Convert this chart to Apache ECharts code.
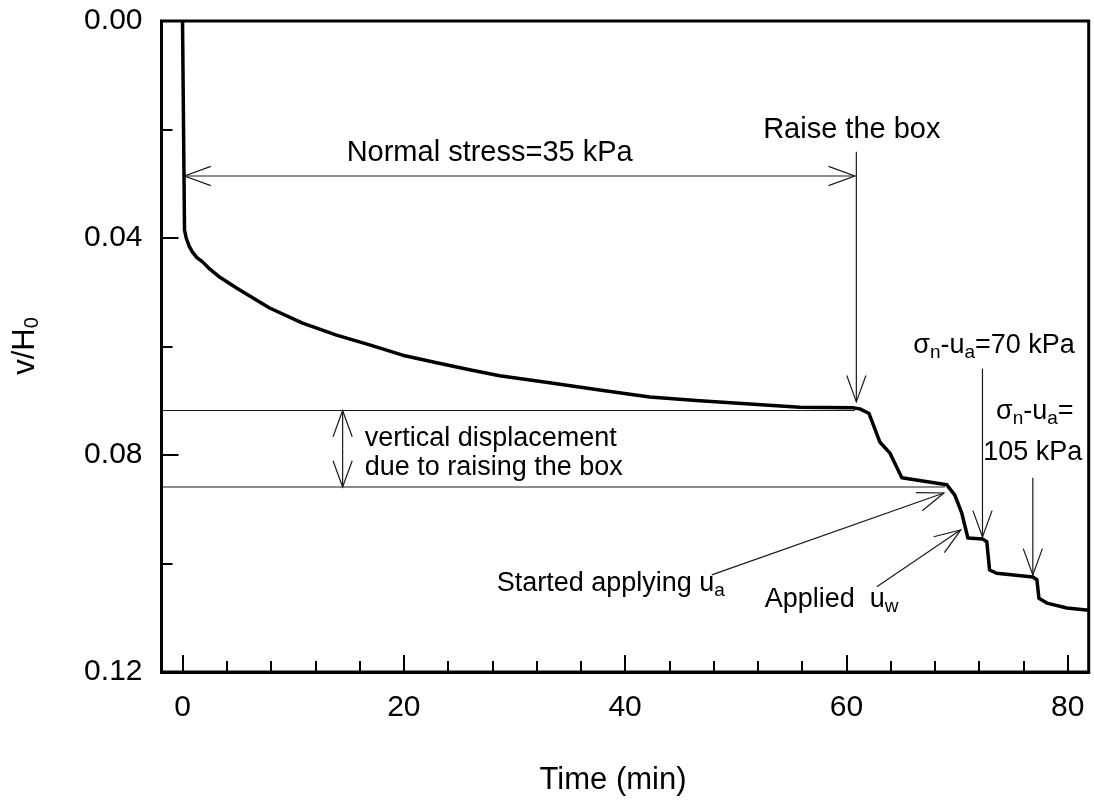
<!DOCTYPE html>
<html>
<head>
<meta charset="utf-8">
<script src="https://cdn.jsdelivr.net/npm/echarts@6/dist/echarts.min.js"></script>
<style>
  html, body { margin: 0; padding: 0; background: #fff; }
  #chart { width: 1094px; height: 803px; }
</style>
</head>
<body>
<div id="chart"></div>
<script>
// Settlement record: elapsed time (min) against normalised vertical displacement v/H0
const timeMin = [0, 0.18, 0.33, 0.6, 0.9, 1.3, 1.81, 2.5, 3.35, 4.88, 7.87, 10.85, 13.92, 16.91, 19.89, 22.97, 25.95, 28.66,
  33.18, 37.7, 42.22, 46.75, 51.27, 55.79, 60.58, 61.21, 62.03, 63.02, 63.92, 65.01, 69.08, 69.8, 70.43,
  70.98, 72.33, 72.69, 72.94, 73.58, 76.85, 77.22, 77.4, 78.12, 79.93, 81.9];
const vOverH0 = [0, 0.0385, 0.0400, 0.0415, 0.0426, 0.0436, 0.0444, 0.0458, 0.0472, 0.0492, 0.0529, 0.0557, 0.0579, 0.0597, 0.0616, 0.0630, 0.0643, 0.0654,
  0.0667, 0.0680, 0.0693, 0.0700, 0.0706, 0.0712, 0.0713, 0.0715, 0.0723, 0.0776, 0.0796, 0.0842, 0.0855, 0.0874, 0.0907,
  0.0953, 0.0955, 0.0960, 0.1012, 0.1018, 0.1025, 0.1030, 0.1064, 0.1073, 0.1082, 0.1086];

// Axis ticks
const xMajorTicks = [0, 20, 40, 60, 80];
const xMinorTicks = [4, 8, 12, 16, 24, 28, 32, 36, 44, 48, 52, 56, 64, 68, 72, 76];
const yTickStep = 0.04;

// Test stages marked on the record (time, v/H0)
const boxRaiseTime = 60.9;
const levelBeforeRaise = 0.0718;
const levelAfterRaise = 0.0859;

const FONT = '"Liberation Sans", Arial, Helvetica, sans-serif';
const INK = '#000';
const THIN = '#1a1a1a';
const X_MIN = -1.9, X_MAX = 81.9;
const GRID = { left: 161.5, right: 5.3, top: 21, bottom: 131 };

const chart = echarts.init(document.getElementById('chart'), null, { renderer: 'canvas' });

chart.setOption({
  animation: false,
  backgroundColor: '#fff',
  grid: [
    Object.assign({ show: true, borderColor: INK, borderWidth: 3, backgroundColor: 'transparent' }, GRID),
    Object.assign({ show: false }, GRID)
  ],
  xAxis: [
    {
      type: 'value', gridIndex: 0, min: X_MIN, max: X_MAX, position: 'bottom',
      axisLine: { show: true, onZero: false, lineStyle: { color: INK, width: 3 } },
      axisTick: { show: true, inside: true, length: 17, customValues: xMajorTicks, lineStyle: { color: INK, width: 2 } },
      axisLabel: { customValues: xMajorTicks, color: INK, fontSize: 30, fontFamily: FONT, margin: 21 },
      splitLine: { show: false }
    },
    {
      // minor ticks of the time axis
      type: 'value', gridIndex: 1, min: X_MIN, max: X_MAX, position: 'bottom',
      axisLine: { show: false, onZero: false },
      axisTick: { show: true, inside: true, length: 11, customValues: xMinorTicks, lineStyle: { color: INK, width: 2 } },
      axisLabel: { show: false },
      splitLine: { show: false }
    }
  ],
  yAxis: [
    {
      type: 'value', gridIndex: 0, inverse: true, min: 0, max: 0.12, interval: yTickStep, position: 'left',
      axisLine: { show: true, onZero: false, lineStyle: { color: INK, width: 3 } },
      axisTick: { show: true, inside: true, length: 17, lineStyle: { color: INK, width: 2 } },
      minorTick: { show: true, splitNumber: 2, length: 11, lineStyle: { color: INK, width: 2 } },
      axisLabel: { color: INK, fontSize: 30, fontFamily: FONT, margin: 19, formatter: v => v.toFixed(2) },
      splitLine: { show: false },
      minorSplitLine: { show: false }
    },
    {
      type: 'value', gridIndex: 1, inverse: true, min: 0, max: 0.12, show: false,
      axisLine: { onZero: false }
    }
  ],
  series: [{
    type: 'line',
    xAxisIndex: 0,
    yAxisIndex: 0,
    data: timeMin.map((t, i) => [t, vOverH0[i]]),
    showSymbol: false,
    lineStyle: { color: INK, width: 3.5, join: 'round' },
    clip: true
  }]
});

// ---- annotation layer, placed in data coordinates ----
const P = (t, v) => chart.convertToPixel({ gridIndex: 0 }, [t, v]);

const RICH = {
  s: { fontSize: 19, fontFamily: FONT, fill: INK, padding: [14, 0, 0, 0] }
};

function seg(a, b) {
  return { type: 'line', silent: true, shape: { x1: a[0], y1: a[1], x2: b[0], y2: b[1] },
    style: { stroke: THIN, lineWidth: 1.2 } };
}
function head(tip, tail) {
  const dx = tail[0] - tip[0], dy = tail[1] - tip[1];
  const d = Math.hypot(dx, dy), ux = dx / d, uy = dy / d;
  const len = 28, ang = 20 * Math.PI / 180;
  const side = a => [tip[0] + len * (ux * Math.cos(a) - uy * Math.sin(a)),
                     tip[1] + len * (ux * Math.sin(a) + uy * Math.cos(a))];
  return { type: 'polyline', silent: true, shape: { points: [side(ang), tip, side(-ang)] },
    style: { stroke: THIN, lineWidth: 1.2, fill: null } };
}
function arrow(from, to, both) {
  const a = P(from[0], from[1]), b = P(to[0], to[1]);
  const els = [seg(a, b), head(b, a)];
  if (both) els.push(head(a, b));
  return els;
}
function label(text, t, v, align, size) {
  const p = P(t, v);
  return { type: 'text', silent: true, x: p[0], y: p[1],
    style: { text, fontFamily: FONT, fontSize: size || 27, fill: INK,
      align: align || 'left', verticalAlign: 'middle', rich: RICH } };
}

const graphics = [].concat(
  // consolidation under the first normal stress
  arrow([0.18, 0.02857], [60.76, 0.02857], true),
  [label('Normal stress=35 kPa', 27.76, 0.02433, 'center', 29)],
  // raising the box
  arrow([boxRaiseTime, 0.0241], [boxRaiseTime, 0.0702]),
  [label('Raise the box', 60.49, 0.02009, 'center', 29)],
  [seg(P(X_MIN, levelBeforeRaise), P(60.76, levelBeforeRaise))],
  [seg(P(X_MIN, levelAfterRaise), P(68.9, levelAfterRaise))],
  arrow([14.47, 0.0788], [14.47, levelBeforeRaise]),
  arrow([14.47, 0.0788], [14.47, levelAfterRaise]),
  [label('vertical displacement', 16.46, 0.07698, 'left'),
   label('due to raising the box', 16.46, 0.08232, 'left')],
  // suction stages
  arrow([47.83, 0.1021], [68.81, 0.0870]),
  [label('Started applying u{s|a}', 28.39, 0.10369, 'left')],
  arrow([62.75, 0.1043], [70.34, 0.0938]),
  [label('Applied  u{s|w}', 52.62, 0.10673, 'left')],
  // net normal stress increments
  arrow([72.3, 0.0641], [72.3, 0.0951]),
  [label('σ{s|n}-u{s|a}=70 kPa', 80.65, 0.05982, 'right')],
  arrow([76.85, 0.0842], [76.85, 0.1021]),
  [label('σ{s|n}-u{s|a}=', 77.03, 0.07207, 'center'),
   label('105 kPa', 76.85, 0.07954, 'center')],
  // axis titles
  [{ type: 'text', silent: true, x: 613, y: 780,
     style: { text: 'Time (min)', fontFamily: FONT, fontSize: 31, fill: INK, align: 'center', verticalAlign: 'middle' } },
   { type: 'text', silent: true, x: 25, y: 346, rotation: Math.PI / 2,
     style: { text: 'v/H{s|0}', fontFamily: FONT, fontSize: 31, fill: INK, align: 'center', verticalAlign: 'middle',
       rich: { s: { fontSize: 20, fontFamily: FONT, fill: INK, padding: [15, 0, 0, 0] } } } }]
);

chart.setOption({ graphic: { elements: graphics } });
</script>
</body>
</html>
